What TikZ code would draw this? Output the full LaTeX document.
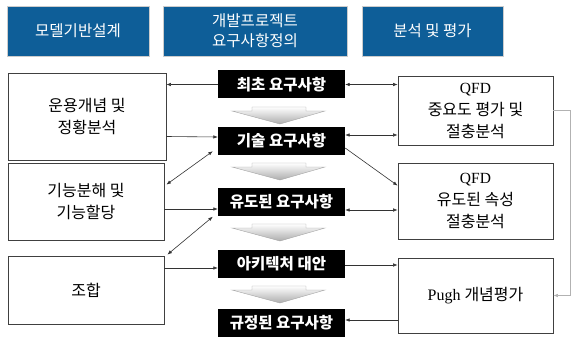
\documentclass[tikz,border=0pt]{standalone}
\usepackage{fontspec}
\setmainfont{Liberation Serif}
\newfontfamily\kr{Noto Sans CJK KR}
\usetikzlibrary{arrows.meta,calc}
\definecolor{hdrblue}{RGB}{14,94,152}
\begin{document}
\begin{tikzpicture}[x=1pt,y=-1pt,
  hdr/.style={fill=hdrblue, draw=gray!40, line width=0.6pt, text=white, align=center,
    font=\kr\fontsize{15.5}{20}\selectfont, inner sep=0pt, minimum height=50pt},
  wbox/.style={draw=black!75, line width=0.8pt, fill=white, align=center,
    font=\kr\fontsize{16}{22}\selectfont, inner sep=0pt},
  bbox/.style={fill=black, text=white, minimum width=127pt, minimum height=28pt,
    font=\kr\bfseries\fontsize{15.5}{16}\selectfont, inner sep=0pt},
  conn/.style={draw=black!80, line width=0.6pt},
  tipe/.style={-{Latex[length=4.5pt,width=3.5pt]}},
  tipb/.style={{Latex[length=4.5pt,width=3.5pt]}-{Latex[length=4.5pt,width=3.5pt]}},
  dnarrow/.style={draw=gray!70, line width=0.4pt, top color=white, bottom color=gray!65},
  fb/.style={draw=gray!60, line width=0.6pt, -{Latex[length=4.5pt,width=3.5pt]}}
]
\useasboundingbox (0,0) rectangle (571,337);

% headers
\node[hdr, minimum width=142pt] (h1) at (78,31) {모델기반설계};
\node[hdr, minimum width=184pt] (h2) at (255,31) {개발프로젝트\\요구사항정의};
\node[hdr, minimum width=141pt] (h3) at (432.5,31) {분석 및 평가};

% left boxes
\node[wbox, minimum width=158pt, minimum height=87pt] (A) at (87,116.5) {운용개념 및\\정황분석};
\node[wbox, minimum width=156pt, minimum height=77pt] (B) at (86,201.5) {기능분해 및\\기능할당};
\node[wbox, minimum width=156pt, minimum height=68pt] (C) at (86,290) {조합};

% center black boxes
\node[bbox] (init)  at (281.5,84.5)  {최초 요구사항};
\node[bbox] (tech)  at (281.5,141)   {기술 요구사항};
\node[bbox] (deriv) at (281.5,201.5) {유도된 요구사항};
\node[bbox] (arch)  at (281.5,263.5) {아키텍처 대안};
\node[bbox] (spec)  at (281.5,323)   {규정된 요구사항};

% right boxes
\node[wbox, minimum width=155pt, minimum height=69pt] (Q1) at (475.5,110.5)
  {\rmfamily\fontsize{15.5}{20}\selectfont QFD\\\kr\fontsize{16}{20}\selectfont 중요도 평가 및\\\kr\fontsize{16}{20}\selectfont 절충분석};
\node[wbox, minimum width=155pt, minimum height=76pt] (Q2) at (475.5,201)
  {\rmfamily\fontsize{15.5}{20}\selectfont QFD\\\kr\fontsize{16}{20}\selectfont 유도된 속성\\\kr\fontsize{16}{20}\selectfont 절충분석};
\node[wbox, minimum width=155pt, minimum height=75pt] (P) at (475.5,295.5)
  {\rmfamily\fontsize{16}{20}\selectfont Pugh {\kr\fontsize{16}{20}\selectfont 개념평가}};

% down arrows between black boxes
\foreach \y in {107,163,224,286}{
  \path[dnarrow] (252,\y) -- (306,\y) -- (306,\y+4) -- (325,\y+4) -- (280,\y+17)
    -- (232,\y+4) -- (252,\y+4) -- cycle;
}

% connectors
\draw[conn,tipe] (init.west) -- (A.east |- init.west);
\draw[conn,tipb] (init.east) -- (Q1.west |- init.east);
\draw[conn,tipe] ($(A.east)+(0,20)$) -- ($(tech.west)+(0,-4)$);
\draw[conn,tipb] ($(tech.east)+(0,-6)$) -- (Q1.west |- {$(tech.east)+(0,-6)$});
\draw[conn,tipb] ($(tech.south west)+(-5,-4)$) -- ($(B.north east)+(2,22)$);
\draw[conn,tipe] ($(tech.east)+(0,7)$) -- ($(Q2.north west)+(0,23)$);
\draw[conn,tipe] ($(B.east)+(0,7.5)$) -- ($(deriv.west)+(0,7.5)$);
\draw[conn,tipb] ($(deriv.east)+(0,8.5)$) -- ($(Q2.west)+(0,9)$);
\draw[conn,tipb] ($(deriv.south west)+(-5,1)$) -- ($(C.north east)+(3,-1)$);
\draw[conn,tipe] ($(C.east)+(0,-22)$) -- ($(arch.west)+(0,4.5)$);
\draw[conn,tipe] ($(arch.east)+(0,1.5)$) -- ($(P.west)+(0,-30.5)$);
\draw[conn,tipe] ($(P.west)+(0,24.5)$) -- ($(spec.east)+(0,-3)$);

% feedback loop on the right
\draw[fb] (Q1.east) -- ++(17,0) |- (P.east);
\end{tikzpicture}
\end{document}
